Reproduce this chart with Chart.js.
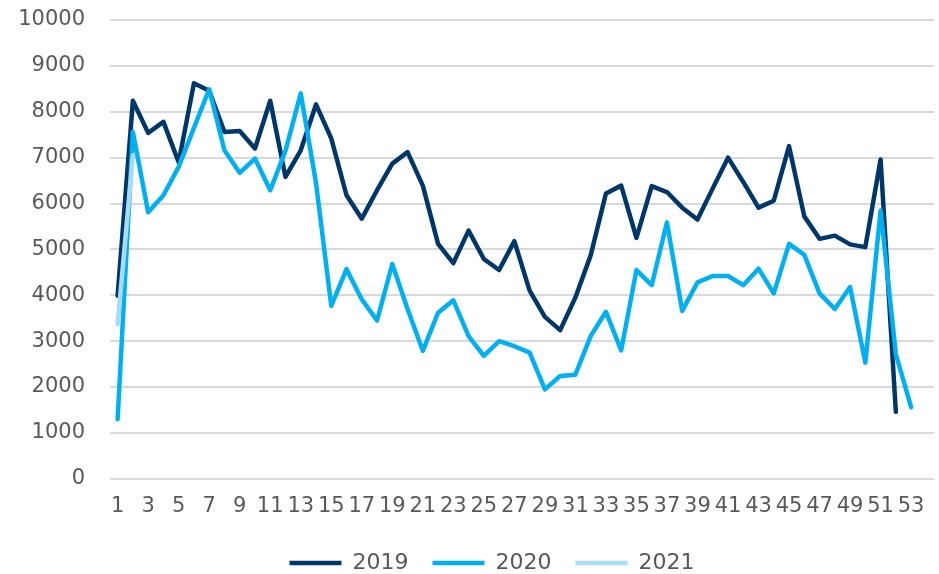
<!DOCTYPE html>
<html lang="sv">
<head>
    <meta charset="UTF-8">
    <title>Veckodata 2019-2021</title>
    <script src="https://cdn.jsdelivr.net/npm/chart.js"></script>
    <style>
        html, body {
            margin: 0;
            padding: 0;
            background: #ffffff;
            overflow: hidden;
        }
        #wrap {
            width: 939px;
            height: 574px;
        }
    </style>
</head>
<body>
    <div id="wrap"><canvas id="chart" width="939" height="574"></canvas></div>

    <script>
        // veckor 1-53
        const weeks = ['1','2','3','4','5','6','7','8','9','10','11','12','13','14','15','16','17','18','19','20',
            '21','22','23','24','25','26','27','28','29','30','31','32','33','34','35','36','37','38','39','40',
            '41','42','43','44','45','46','47','48','49','50','51','52','53'];

        const y2019 = [3990, 8240, 7540, 7780, 6900, 8620, 8460, 7560, 7580, 7200,
            8240, 6580, 7160, 8160, 7420, 6180, 5670, 6290, 6870, 7120,
            6390, 5120, 4700, 5410, 4790, 4550, 5180, 4100, 3530, 3240,
            3950, 4870, 6220, 6390, 5250, 6380, 6250, 5910, 5650, 6330,
            7000, 6470, 5910, 6060, 7250, 5720, 5230, 5300, 5110, 5050,
            6960, 1460];

        const y2020 = [1300, 7560, 5810, 6180, 6800, 7650, 8490, 7160, 6670, 6980,
            6290, 7150, 8400, 6450, 3770, 4570, 3910, 3450, 4680, 3700,
            2790, 3620, 3890, 3110, 2680, 3000, 2890, 2750, 1950, 2240,
            2270, 3110, 3640, 2800, 4550, 4220, 5590, 3660, 4280, 4420,
            4420, 4220, 4580, 4040, 5120, 4880, 4040, 3700, 4180, 2530,
            5850, 2720, 1560];

        const y2021 = [3370, 7050];

        const yTicks = [0, 1000, 2000, 3000, 4000, 5000, 6000, 7000, 8000, 9000, 10000];

        const axisFont = { family: 'DejaVu Sans', size: 21 };

        // order: senare år ritas ovanpå, som i Excel
        function line(label, data, color, order) {
            return {
                label: label,
                data: data,
                order: order,
                borderColor: color,
                backgroundColor: color,
                borderWidth: 4.5,
                pointRadius: 0,
                tension: 0,
                borderJoinStyle: 'round',
                borderCapStyle: 'round'
            };
        }

        // förklaringen sitter lite till höger om mitten i originalet
        const legendShift = {
            id: 'legendShift',
            afterLayout(chart) {
                chart.legend.left += 17;
                chart.legend.right += 17;
            }
        };

        new Chart(document.getElementById('chart'), {
            type: 'line',
            data: {
                // en tom plats efter vecka 53, som i originalets axel
                labels: weeks.concat(['']),
                datasets: [
                    line('2019', y2019, '#003769', 2),
                    line('2020', y2020, '#00b0f0', 1),
                    line('2021', y2021, '#a6dcf4', 0)
                ]
            },
            plugins: [legendShift],
            options: {
                responsive: false,
                animation: false,
                layout: { padding: { left: 16, right: 5, top: 0, bottom: -10 } },
                plugins: {
                    tooltip: { enabled: false },
                    legend: {
                        position: 'bottom',
                        labels: {
                            font: { family: 'DejaVu Sans', size: 22 },
                            color: '#595959',
                            usePointStyle: true,
                            pointStyle: 'line',
                            pointStyleWidth: 52,
                            boxHeight: 22,
                            padding: 24,
                            sort: function (a, b) { return a.datasetIndex - b.datasetIndex; }
                        }
                    }
                },
                scales: {
                    x: {
                        offset: true,
                        grid: { display: false },
                        border: { display: false },
                        afterFit: function (axis) {
                            axis.height += 2;
                            axis.paddingLeft = 0;
                            axis.paddingRight = 0;
                        },
                        ticks: {
                            autoSkip: false,
                            maxRotation: 0,
                            minRotation: 0,
                            font: axisFont,
                            color: '#595959',
                            padding: 7,
                            callback: function (v, i) { return i % 2 === 0 ? this.getLabelForValue(v) : ''; }
                        }
                    },
                    y: {
                        min: 0,
                        max: 10000,
                        afterBuildTicks: function (axis) {
                            axis.ticks = yTicks.map(function (v) { return { value: v }; });
                        },
                        afterFit: function (axis) {
                            axis.width = 94;
                            axis.paddingTop = 20;
                            axis.paddingBottom = 0;
                        },
                        grid: { color: '#d9d9d9', lineWidth: 2, drawTicks: false },
                        border: { display: false },
                        ticks: {
                            font: axisFont,
                            color: '#595959',
                            padding: 25,
                            callback: function (v) { return String(v); }
                        }
                    }
                }
            }
        });
    </script>
</body>
</html>
